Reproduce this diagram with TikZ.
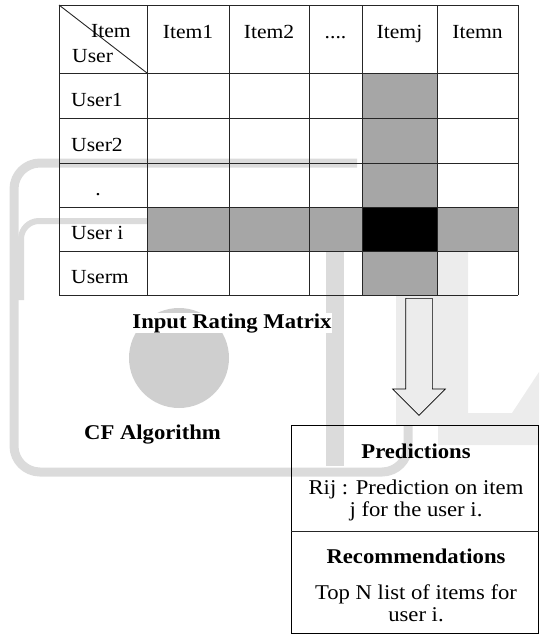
\documentclass[tikz,border=0pt]{standalone}
\usepackage{fontspec}
\setmainfont{Liberation Serif}[FakeStretch=1.08]
\usetikzlibrary{shapes.arrows}

\begin{document}
\begin{tikzpicture}[x=1pt, y=-1pt,
    cell/.style={font=\fontsize{20}{22}\selectfont, inner sep=0pt, anchor=base},
    rowlbl/.style={cell, anchor=base west},
    head/.style={font=\fontsize{21}{23}\selectfont\bfseries, inner sep=0pt, anchor=base},
    body/.style={font=\fontsize{21}{23}\selectfont, inner sep=0pt, anchor=base},
    grid/.style={line width=0.9pt, black!85},
    shade/.style={fill=black!35},
    wm/.style={line width=9pt, gray!28},
    wmfill/.style={fill=gray!15}]

    \useasboundingbox (0,0) rectangle (539,635);

    % faint watermark behind everything
    \draw[wm, rounded corners=26pt] (357,163) -- (14,163) -- (14,472) -- (408,472) -- (408,252);
    \draw[wm, line width=6pt, rounded corners=18pt] (147,221) -- (21,221) -- (21,300);
    \draw[wm, line width=18pt] (335,252) -- (335,466);
    \fill[wmfill] (396,252) rectangle (438,425);
    \fill[wmfill] (438,252) -- (468,252) -- (468,413) -- (512,413) -- (539,372) -- (539,445) -- (438,445) -- cycle;
    \fill[gray!38] (179,358) circle (50pt);

    % rating matrix
    \fill[shade] (362,73) rectangle (437,295);
    \fill[shade] (147,207) rectangle (518,251);
    \fill[black] (362,207) rectangle (437,251);
    \foreach \x in {59,147,229,309,362,437,518}
        \draw[grid] (\x,5) -- (\x,295);
    \foreach \y in {5,73,118,163,207,251,295}
        \draw[grid] (59,\y) -- (518,\y);
    \draw[grid] (59,5) -- (147,73);

    \node[cell] (hitem) at (111,37) {Item};
    \node[rowlbl] (huser) at (72,62) {User};
    \foreach \t/\x [count=\i] in {Item1/188, Item2/269}
        \node[cell] (col\i) at (\x,38) {\t};
    \node[cell] (coldots) at (335.5,38) {....};
    \node[cell] (colj) at (399.5,38) {Itemj};
    \node[cell] (coln) at (477.5,38) {Itemn};
    \foreach \t/\y [count=\i] in {User1/106, User2/151, User i/239, Userm/283}
        \node[rowlbl] (row\i) at (71,\y) {\t};
    \node[cell] (rowdot) at (98,195) {.};

    \node[head, fill=white] (matrix) at (232,328) {Input Rating Matrix};
    \node[head] (cf) at (152.5,439) {CF Algorithm};

    % flow into the output box
    \node[single arrow, draw, rotate=-90, anchor=tail, minimum width=0pt, minimum height=117pt,
          single arrow head extend=13pt, inner xsep=0pt, inner ysep=13pt, line width=0.7pt] (flow) at (419,298) {};

    \node[draw, line width=0.9pt, anchor=north west, inner sep=0pt,
          minimum width=247pt, minimum height=208pt] (outbox) at (291,425) {};
    \draw[grid] (outbox.west |- 0,531.5) -- (outbox.east |- 0,531.5);

    \node[head] (pred) at (416,458) {Predictions};
    \node[body] (predA) at (416,494) {Rij : Prediction on item};
    \node[body] (predB) at (416,516) {j for the user i.};
    \node[head] (rec) at (416,563) {Recommendations};
    \node[body] (recA) at (416,599) {Top N list of items for};
    \node[body] (recB) at (416,621.5) {user i.};

\end{tikzpicture}
\end{document}
